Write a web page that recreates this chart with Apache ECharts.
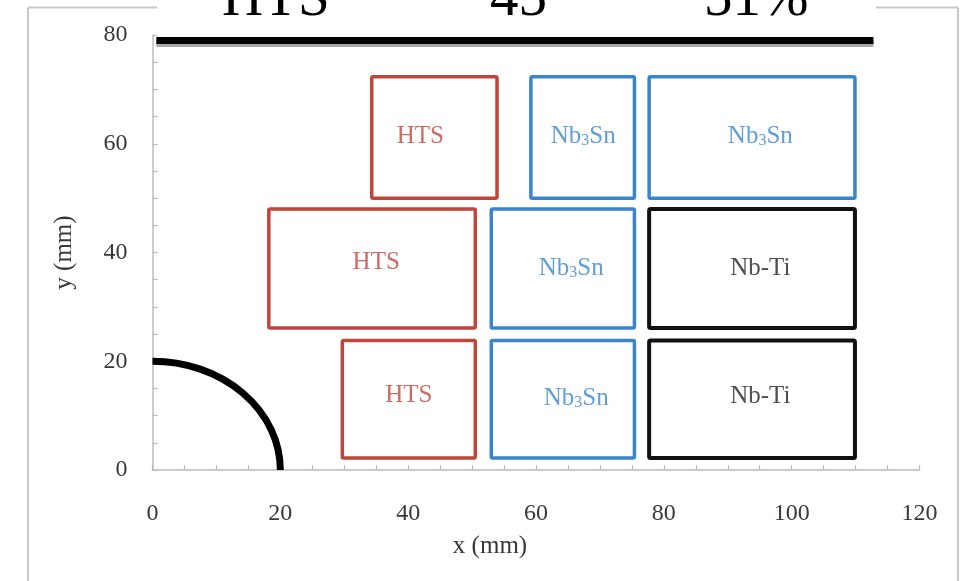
<!DOCTYPE html>
<html>
<head>
<meta charset="utf-8">
<script src="https://cdn.jsdelivr.net/npm/echarts@6/dist/echarts.min.js"></script>
<style>
html,body{margin:0;padding:0;background:#fff;}
#c{width:963px;height:581px;}
</style>
</head>
<body>
<div id="c"></div>
<script>
// ---- data (mm) ----
const xTickValues = [0, 20, 40, 60, 80, 100, 120];
const yTickValues = [0, 20, 40, 60, 80];
// boxes: [xMin, xMax, yMin, yMax]
const htsBoxes = [
  [34.3, 53.9, 50.0, 72.3],
  [18.2, 50.5, 26.1, 48.0],
  [29.7, 50.5, 2.2, 23.8]
];
const nb3snBoxes = [
  [59.2, 75.4, 50.0, 72.3],
  [77.7, 109.9, 50.0, 72.3],
  [53.0, 75.4, 26.1, 48.0],
  [53.0, 75.4, 2.2, 23.8]
];
const nbtiBoxes = [
  [77.7, 109.9, 26.1, 48.0],
  [77.7, 109.9, 2.2, 23.8]
];
// labels: [x, y, text]
const htsLabels = [[41.9, 61.4, 'HTS'], [35.0, 38.1, 'HTS'], [40.1, 13.8, 'HTS']];
const nb3snLabels = [[67.4, 61.4, 'Nb3Sn'], [95.1, 61.4, 'Nb3Sn'], [65.5, 37.1, 'Nb3Sn'], [66.3, 13.1, 'Nb3Sn']];
const nbtiLabels = [[95.1, 37.1, 'Nb-Ti'], [95.1, 13.6, 'Nb-Ti']];
// bore: [centerX, centerY, radius]
const bore = [[0, 0, 20]];
// top shield line
const topLine = [[0.6, 79.0], [112.8, 79.0]];
const headerTexts = ['HTS', '45', '51%'];

const RED = '#BF463C', BLUE = '#3A84CC', BLACK = '#111111';
const FONT = '"Liberation Serif", "Times New Roman", serif';

function boxSeries(data, color, width) {
  return {
    type: 'custom',
    data: data,
    encode: { x: [0, 1], y: [2, 3] },
    clip: false,
    z: 3,
    renderItem: function (params, api) {
      const p1 = api.coord([api.value(0), api.value(3)]);
      const p2 = api.coord([api.value(1), api.value(2)]);
      return {
        type: 'rect',
        shape: { x: p1[0], y: p1[1], width: p2[0] - p1[0], height: p2[1] - p1[1], r: 1.5 },
        style: { fill: 'none', stroke: color, lineWidth: width }
      };
    }
  };
}

function labelSeries(data, color) {
  return {
    type: 'scatter',
    data: data,
    symbolSize: 0,
    z: 4,
    silent: true,
    label: {
      show: true,
      position: 'inside',
      formatter: function (p) {
        const t = p.value[2];
        if (t === 'Nb3Sn') return '{n|Nb}{s|3}{n|Sn}';
        return '{n|' + t + '}';
      },
      rich: {
        n: { fontFamily: FONT, fontSize: 25, color: color, lineHeight: 25 },
        s: { fontFamily: FONT, fontSize: 16, color: color, lineHeight: 12, verticalAlign: 'bottom' }
      }
    }
  };
}

const axisGray = '#bcbcbc';

const option = {
  backgroundColor: '#ffffff',
  animation: false,
  grid: { left: 152.5, right: 43.5, top: 35, bottom: 111, containLabel: false, outerBoundsMode: 'none' },
  xAxis: {
    type: 'value', min: 0, max: 120, interval: 20,
    axisLine: { show: true, lineStyle: { color: axisGray, width: 1.5 } },
    axisTick: { show: true, inside: true, length: 5, lineStyle: { color: axisGray, width: 1.2 } },
    minorTick: { show: true, splitNumber: 4, length: 5, lineStyle: { color: axisGray, width: 1.2 } },
    splitLine: { show: false },
    axisLabel: { color: '#383838', fontFamily: FONT, fontSize: 24, margin: 32,
      formatter: function (v) { return xTickValues.indexOf(v) >= 0 ? String(v) : ''; } },
    name: 'x (mm)', nameLocation: 'middle', nameGap: 64,
    nameTextStyle: { color: '#383838', fontFamily: FONT, fontSize: 25, padding: [0, 92, 0, 0] }
  },
  yAxis: {
    type: 'value', min: 0, max: 80, interval: 20,
    axisLine: { show: true, lineStyle: { color: axisGray, width: 1.5 } },
    axisTick: { show: true, inside: true, length: 5, lineStyle: { color: axisGray, width: 1.2 } },
    minorTick: { show: true, splitNumber: 4, length: 5, lineStyle: { color: axisGray, width: 1.2 } },
    splitLine: { show: false },
    axisLabel: { color: '#383838', fontFamily: FONT, fontSize: 24, margin: 25,
      formatter: function (v) { return yTickValues.indexOf(v) >= 0 ? String(v) : ''; } },
    name: 'y (mm)', nameLocation: 'middle', nameGap: 76,
    nameTextStyle: { color: '#383838', fontFamily: FONT, fontSize: 25 }
  },
  graphic: [
    { type: 'line', shape: { x1: 28, y1: 7.5, x2: 28, y2: 581 }, style: { stroke: '#c8c8c8', lineWidth: 2 } },
    { type: 'line', shape: { x1: 28, y1: 7.5, x2: 157, y2: 7.5 }, style: { stroke: '#c8c8c8', lineWidth: 2 } },
    { type: 'line', shape: { x1: 876, y1: 7.5, x2: 958, y2: 7.5 }, style: { stroke: '#c8c8c8', lineWidth: 2 } },
    { type: 'line', shape: { x1: 958, y1: 7.5, x2: 958, y2: 581 }, style: { stroke: '#c8c8c8', lineWidth: 2 } },
    { type: 'text', x: 222, y: 0, style: { text: headerTexts[0], font: '57px ' + FONT, fill: '#000', verticalAlign: 'middle' } },
    { type: 'text', x: 490, y: 0, style: { text: headerTexts[1], font: '57px ' + FONT, fill: '#000', verticalAlign: 'middle' } },
    { type: 'text', x: 704, y: 0, style: { text: headerTexts[2], font: '57px ' + FONT, fill: '#000', verticalAlign: 'middle' } }
  ],
  series: [
    {
      type: 'line', data: topLine, symbol: 'none', z: 5,
      lineStyle: { color: '#000', width: 7, shadowColor: '#a8a8a8', shadowOffsetY: 3, shadowBlur: 0 }
    },
    {
      type: 'custom', data: bore, encode: { x: 0, y: 1 }, clip: false, z: 5,
      renderItem: function (params, api) {
        const cx = api.value(0), cy = api.value(1), r = api.value(2);
        const c = api.coord([cx, cy]);
        const top = api.coord([cx, cy + r]);
        const right = api.coord([cx + r, cy]);
        const rx = right[0] - c[0], ry = c[1] - top[1];
        return {
          type: 'path',
          shape: { pathData: 'M ' + top[0] + ' ' + top[1] + ' A ' + rx + ' ' + ry + ' 0 0 1 ' + right[0] + ' ' + right[1] },
          style: { fill: 'none', stroke: '#000', lineWidth: 7 }
        };
      }
    },
    boxSeries(htsBoxes, RED, 3.5),
    boxSeries(nb3snBoxes, BLUE, 3.5),
    boxSeries(nbtiBoxes, BLACK, 4),
    labelSeries(htsLabels, RED),
    labelSeries(nb3snLabels, BLUE),
    labelSeries(nbtiLabels, '#222')
  ]
};

const chart = echarts.init(document.getElementById('c'), null, { renderer: 'canvas' });
chart.setOption(option);
</script>
</body>
</html>
